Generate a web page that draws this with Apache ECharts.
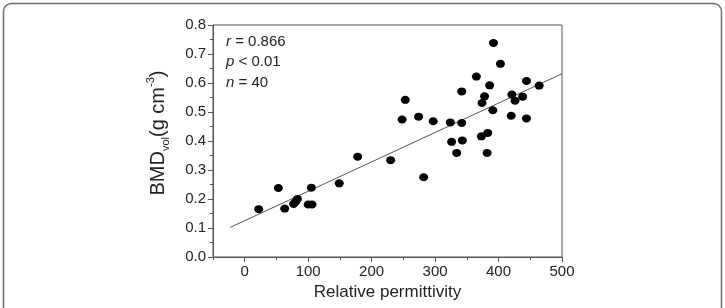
<!DOCTYPE html>
<html>
<head>
<meta charset="utf-8">
<script src="https://cdn.jsdelivr.net/npm/echarts@6/dist/echarts.min.js"></script>
<style>
  html, body { margin: 0; padding: 0; background: #fff; }
  #chart { width: 725px; height: 308px; }
</style>
</head>
<body>
<div id="chart"></div>
<script>
// values
const permittivity = [
  22, 53, 63, 77, 80, 83, 100, 106, 105, 149,
  178, 230, 282,
  248, 253, 274, 297, 324, 326, 334, 342, 342, 343,
  365, 373, 374, 378, 382, 383, 386, 391, 392, 403,
  420, 421, 426, 438, 444, 444, 464
]
const bmdVol = [
  0.165, 0.238, 0.167, 0.183, 0.19, 0.2, 0.181, 0.181, 0.239, 0.254,
  0.346, 0.334, 0.275,
  0.474, 0.542, 0.484, 0.468, 0.464, 0.397, 0.359, 0.462, 0.571, 0.402,
  0.622, 0.416, 0.531, 0.554, 0.359, 0.428, 0.592, 0.506, 0.738, 0.666,
  0.487, 0.56, 0.539, 0.553, 0.607, 0.478, 0.591
]
const fitX = [-23, 500]
const fitY = [0.102, 0.632]
const xMajorTicks = [0, 100, 200, 300, 400, 500]
const xMinorTicks = [-50, 50, 150, 250, 350, 450]
const statLines = [
  ["r", " = 0.866"],
  ["p", " < 0.01"],
  ["n", " = 40"]
]

const axisColor = "#555"
const textColor = "#222"
const font = "Liberation Sans, Arial, sans-serif"

const chart = echarts.init(document.getElementById("chart"), null, { renderer: "canvas" })

chart.setOption({
  backgroundColor: "#fff",
  animation: false,
  grid: {
    left: 213, right: 163, top: 25, bottom: 51,
    show: true, borderColor: axisColor, borderWidth: 1, backgroundColor: "transparent"
  },
  xAxis: [
    {
      type: "value", min: -50, max: 500,
      axisLine: { onZero: false, lineStyle: { color: axisColor } },
      axisTick: { customValues: xMajorTicks, length: 5, lineStyle: { color: axisColor } },
      axisLabel: { customValues: xMajorTicks, color: textColor, fontFamily: font, fontSize: 15, margin: 7 },
      splitLine: { show: false },
      name: "Relative permittivity",
      nameLocation: "middle",
      nameGap: 27,
      nameTextStyle: { color: textColor, fontFamily: font, fontSize: 17 }
    },
    {
      type: "value", min: -50, max: 500, position: "bottom",
      axisLine: { show: false, onZero: false },
      axisTick: { customValues: xMinorTicks, length: 3, lineStyle: { color: axisColor } },
      axisLabel: { show: false },
      splitLine: { show: false }
    }
  ],
  yAxis: {
    type: "value", min: 0, max: 0.8, interval: 0.1,
    axisLine: { show: true, onZero: false, lineStyle: { color: axisColor } },
    axisTick: { show: true, length: 5, lineStyle: { color: axisColor } },
    minorTick: { show: true, splitNumber: 2, length: 3, lineStyle: { color: axisColor } },
    axisLabel: {
      color: textColor, fontFamily: font, fontSize: 15, margin: 7,
      formatter: (v) => v.toFixed(1)
    },
    splitLine: { show: false },
    name: "{t|BMD}{sub|vol}{t|(g cm}{sup|-3}{t|)}",
    nameLocation: "middle",
    nameGap: 42,
    nameTextStyle: {
      padding: [0, 0, 0, 16],
      rich: {
        t: { fontFamily: font, fontSize: 20, color: textColor, lineHeight: 26, verticalAlign: "middle" },
        sub: { fontFamily: font, fontSize: 11, color: textColor, lineHeight: 26, verticalAlign: "bottom", padding: [9, 0, 0, 0] },
        sup: { fontFamily: font, fontSize: 11, color: textColor, lineHeight: 26, verticalAlign: "top", padding: [0, 0, 9, 0] }
      }
    }
  },
  graphic: [
    {
      type: "rect", silent: true,
      shape: { x: 3.5, y: 3.5, width: 718, height: 320, r: 8 },
      style: { fill: "none", stroke: "#6b6b6b", lineWidth: 1.5 }
    },
    ...statLines.map((line, i) => ({
      type: "text", left: 226, top: 34 + i * 20.5,
      style: {
        text: `{i|${line[0]}}{t|${line[1]}}`,
        rich: {
          i: { fontFamily: font, fontSize: 15, fontStyle: "italic", fill: textColor },
          t: { fontFamily: font, fontSize: 15, fill: textColor }
        }
      }
    }))
  ],
  series: [
    {
      type: "line",
      data: fitX.map((x, i) => [x, fitY[i]]),
      symbol: "none",
      lineStyle: { color: "#555", width: 1 },
      z: 2
    },
    {
      type: "scatter",
      data: permittivity.map((x, i) => [x, bmdVol[i]]),
      symbol: "circle",
      symbolSize: [9, 8],
      itemStyle: { color: "#000", opacity: 1 },
      z: 3
    }
  ]
})
</script>
</body>
</html>
